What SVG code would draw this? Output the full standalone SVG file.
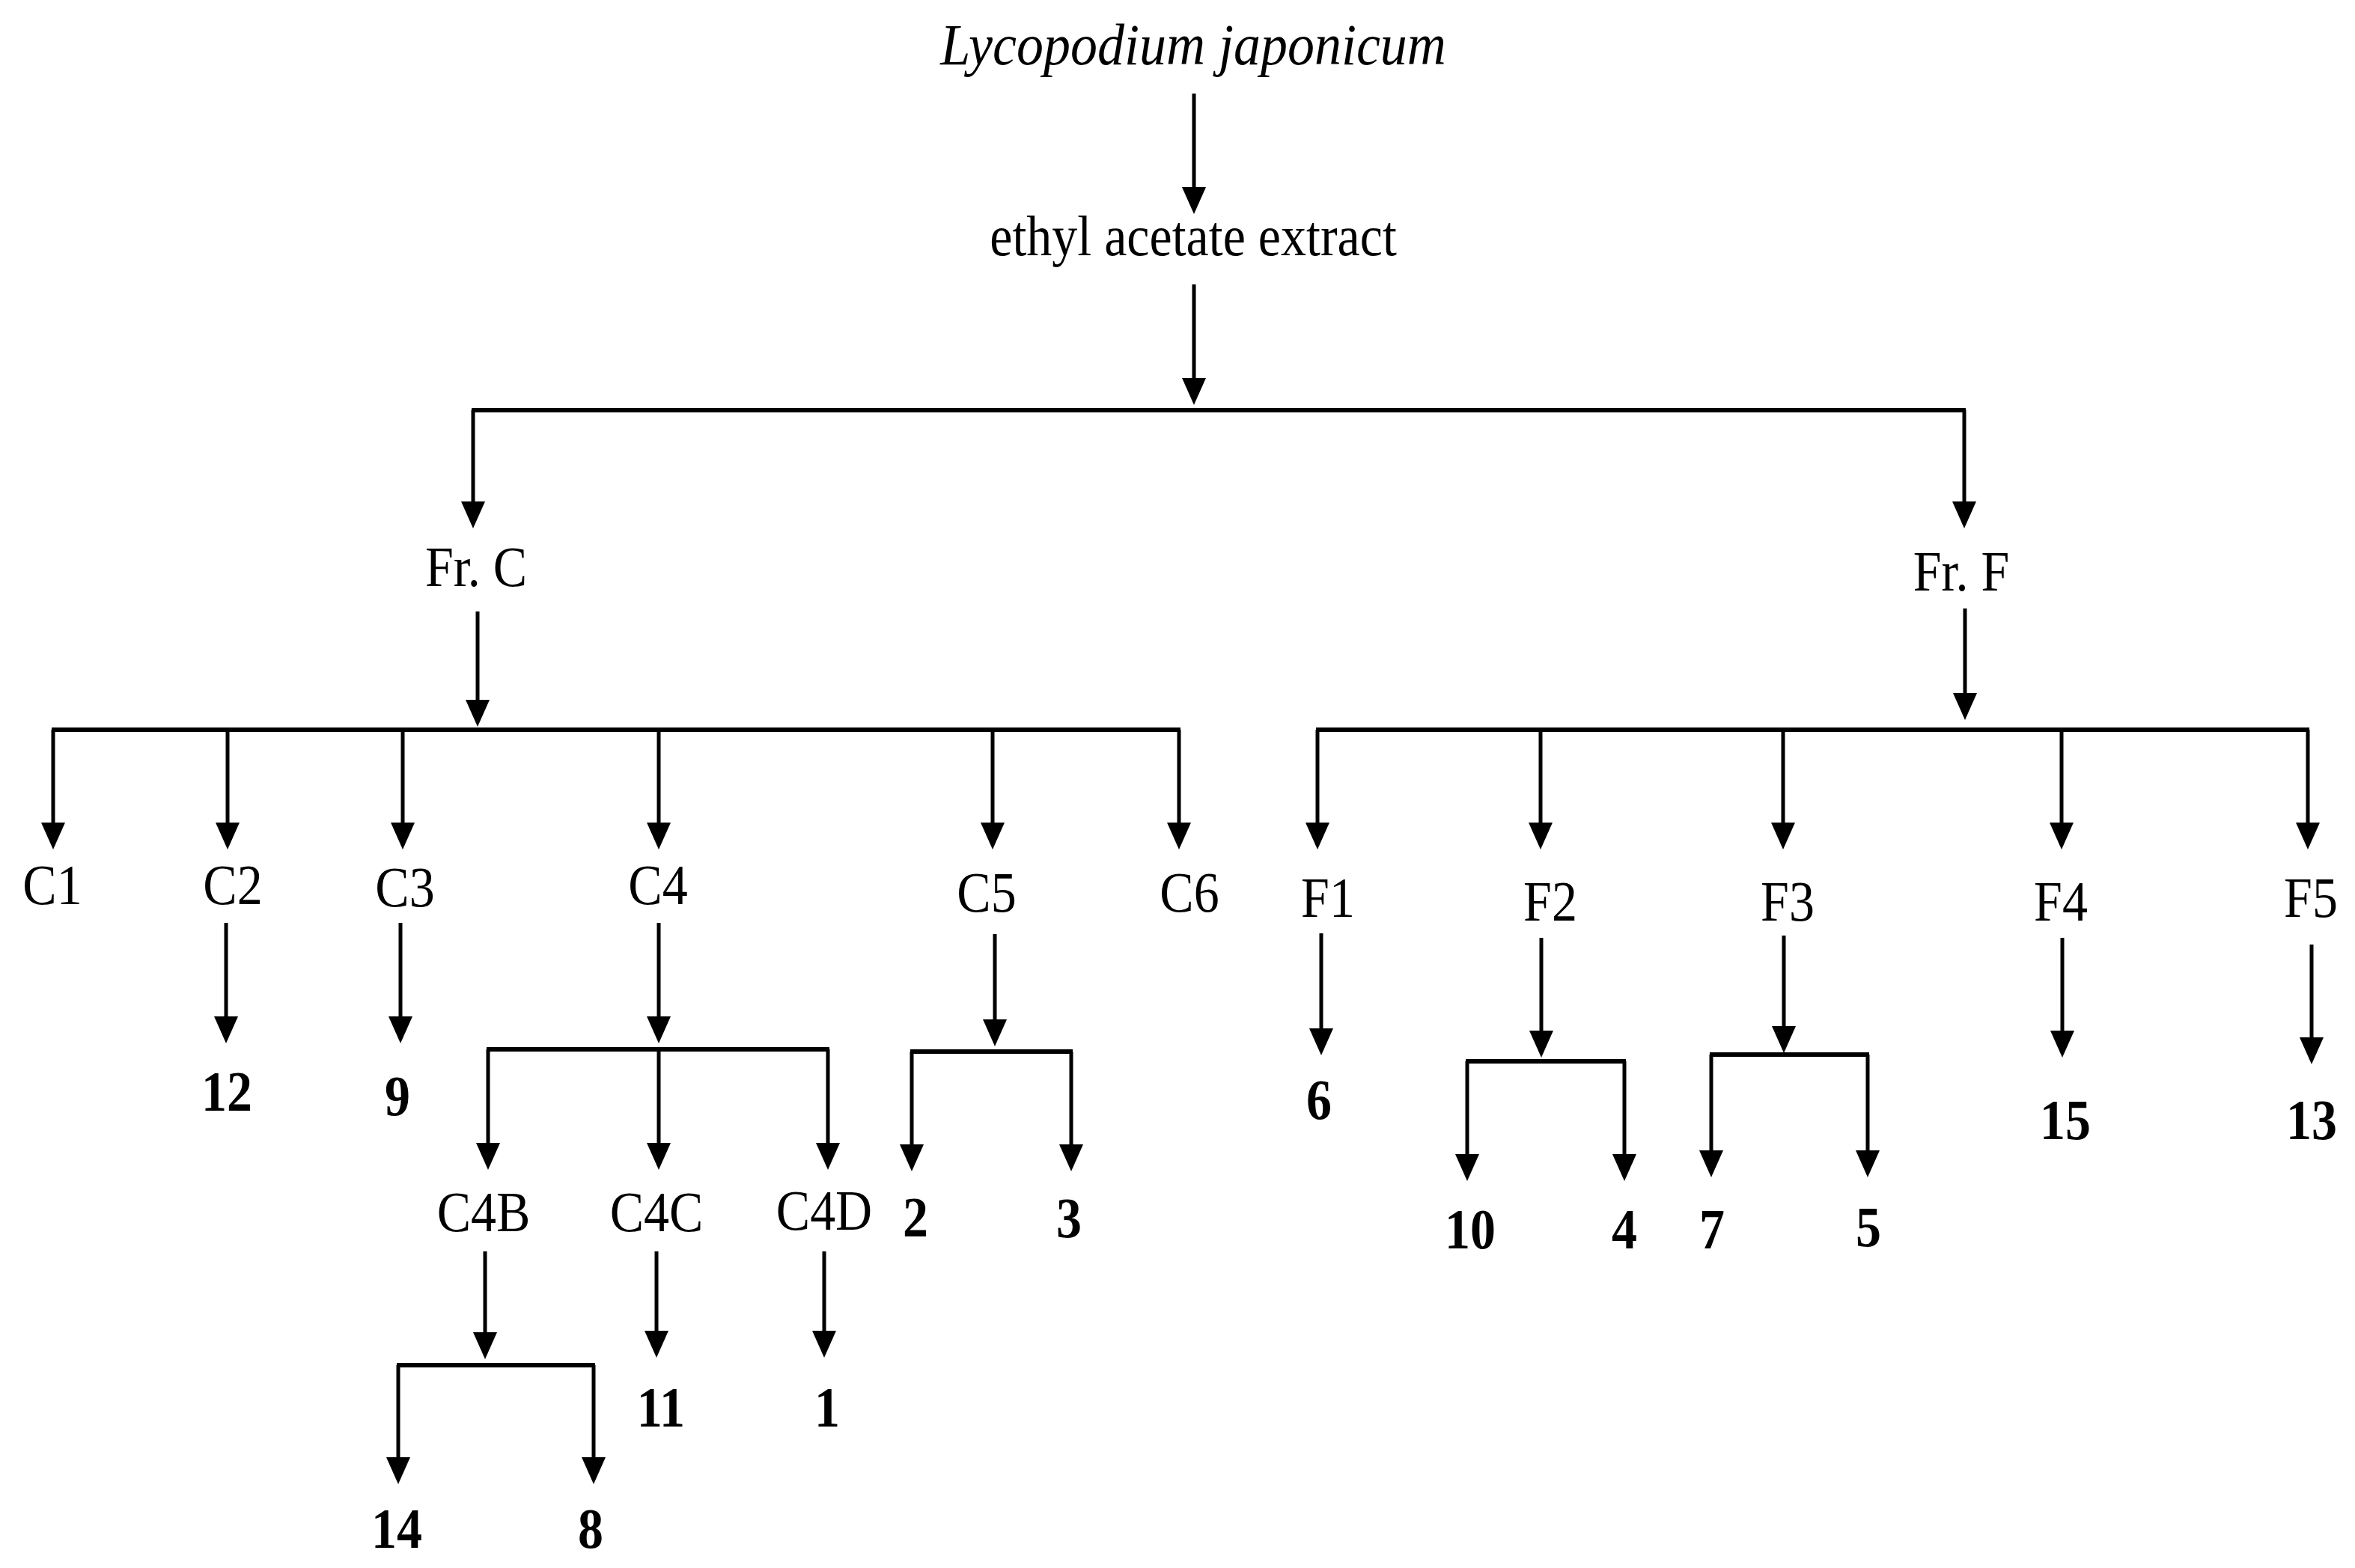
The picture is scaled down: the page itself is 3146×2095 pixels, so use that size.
<svg xmlns="http://www.w3.org/2000/svg" width="3146" height="2095" viewBox="0 0 3146 2095">
<defs>
<style>
text{font-family:"Liberation Serif","Times New Roman",serif;font-size:68px;fill:#000;text-anchor:middle}
.b{font-weight:bold}
.i{font-style:italic;font-size:72px}
.v{stroke:#000;stroke-width:5;fill:none;marker-end:url(#ah)}
.h{stroke:#000;stroke-width:6;fill:none}
</style>
<marker id="ah" viewBox="0 0 36 32" refX="28" refY="16" markerWidth="36" markerHeight="32" markerUnits="userSpaceOnUse" orient="auto">
<path d="M0,0 L36,16 L0,32 z" fill="#000"/>
</marker>
</defs>
<rect width="3146" height="2095" fill="#fff"/>
<g id="connectors">
<line class="v" x1="1595" y1="125" x2="1595" y2="278"/>
<line class="v" x1="1595" y1="380" x2="1595" y2="533"/>
<line class="h" x1="630" y1="548" x2="2626" y2="548"/>
<line class="v" x1="632" y1="548" x2="632" y2="698"/>
<line class="v" x1="2624" y1="548" x2="2624" y2="698"/>
<line class="v" x1="638" y1="817" x2="638" y2="963"/>
<line class="h" x1="69" y1="975" x2="1577" y2="975"/>
<line class="v" x1="71" y1="975" x2="71" y2="1127"/>
<line class="v" x1="304" y1="975" x2="304" y2="1127"/>
<line class="v" x1="538" y1="975" x2="538" y2="1127"/>
<line class="v" x1="880" y1="975" x2="880" y2="1127"/>
<line class="v" x1="1326" y1="975" x2="1326" y2="1127"/>
<line class="v" x1="1575" y1="975" x2="1575" y2="1127"/>
<line class="v" x1="2625" y1="813" x2="2625" y2="954"/>
<line class="h" x1="1758" y1="975" x2="3085" y2="975"/>
<line class="v" x1="1760" y1="975" x2="1760" y2="1127"/>
<line class="v" x1="2058" y1="975" x2="2058" y2="1127"/>
<line class="v" x1="2382" y1="975" x2="2382" y2="1127"/>
<line class="v" x1="2754" y1="975" x2="2754" y2="1127"/>
<line class="v" x1="3083" y1="975" x2="3083" y2="1127"/>
<line class="v" x1="302" y1="1233" x2="302" y2="1386"/>
<line class="v" x1="535" y1="1233" x2="535" y2="1386"/>
<line class="v" x1="880" y1="1233" x2="880" y2="1386"/>
<line class="h" x1="650" y1="1402" x2="1108" y2="1402"/>
<line class="v" x1="652" y1="1402" x2="652" y2="1555"/>
<line class="v" x1="880" y1="1402" x2="880" y2="1555"/>
<line class="v" x1="1106" y1="1402" x2="1106" y2="1555"/>
<line class="v" x1="1329" y1="1248" x2="1329" y2="1390"/>
<line class="h" x1="1216" y1="1405" x2="1433" y2="1405"/>
<line class="v" x1="1218" y1="1405" x2="1218" y2="1557"/>
<line class="v" x1="1431" y1="1405" x2="1431" y2="1557"/>
<line class="v" x1="648" y1="1672" x2="648" y2="1808"/>
<line class="h" x1="530" y1="1824" x2="795" y2="1824"/>
<line class="v" x1="532" y1="1824" x2="532" y2="1975"/>
<line class="v" x1="793" y1="1824" x2="793" y2="1975"/>
<line class="v" x1="877" y1="1672" x2="877" y2="1806"/>
<line class="v" x1="1101" y1="1672" x2="1101" y2="1806"/>
<line class="v" x1="1765" y1="1247" x2="1765" y2="1402"/>
<line class="v" x1="2059" y1="1253" x2="2059" y2="1405"/>
<line class="h" x1="1958" y1="1418" x2="2172" y2="1418"/>
<line class="v" x1="1960" y1="1418" x2="1960" y2="1570"/>
<line class="v" x1="2170" y1="1418" x2="2170" y2="1570"/>
<line class="v" x1="2383" y1="1250" x2="2383" y2="1399"/>
<line class="h" x1="2284" y1="1409" x2="2497" y2="1409"/>
<line class="v" x1="2286" y1="1409" x2="2286" y2="1565"/>
<line class="v" x1="2495" y1="1409" x2="2495" y2="1565"/>
<line class="v" x1="2755" y1="1253" x2="2755" y2="1405"/>
<line class="v" x1="3088" y1="1262" x2="3088" y2="1414"/>
</g>
<g id="n-source"><text class="i" transform="translate(1594,86) scale(1,1.1)">Lycopodium japonicum</text></g>
<g id="n-extract"><text transform="translate(1594,341) scale(1,1.12)">ethyl acetate extract</text></g>
<g id="n-frC"><text transform="translate(636,783) scale(1,1.12)">Fr. C</text></g>
<g id="n-frF"><text transform="translate(2620,789) scale(1,1.12)">Fr. F</text></g>
<g id="n-C1"><text transform="translate(70,1208) scale(1,1.12)">C1</text></g>
<g id="n-C2"><text transform="translate(311,1208) scale(1,1.12)">C2</text></g>
<g id="n-C3"><text transform="translate(541,1211) scale(1,1.12)">C3</text></g>
<g id="n-C4"><text transform="translate(879,1208) scale(1,1.12)">C4</text></g>
<g id="n-C5"><text transform="translate(1318,1218) scale(1,1.12)">C5</text></g>
<g id="n-C6"><text transform="translate(1589,1218) scale(1,1.12)">C6</text></g>
<g id="n-12"><text class="b" transform="translate(303,1484) scale(1,1.12)">12</text></g>
<g id="n-9"><text class="b" transform="translate(531,1490) scale(1,1.12)">9</text></g>
<g id="n-C4B"><text transform="translate(646,1645) scale(1,1.12)">C4B</text></g>
<g id="n-C4C"><text transform="translate(877,1645) scale(1,1.12)">C4C</text></g>
<g id="n-C4D"><text transform="translate(1101,1643) scale(1,1.12)">C4D</text></g>
<g id="n-2"><text class="b" transform="translate(1223,1652) scale(1,1.12)">2</text></g>
<g id="n-3"><text class="b" transform="translate(1428,1653) scale(1,1.12)">3</text></g>
<g id="n-11"><text class="b" transform="translate(883,1906) scale(1,1.12)">11</text></g>
<g id="n-1"><text class="b" transform="translate(1105,1906) scale(1,1.12)">1</text></g>
<g id="n-14"><text class="b" transform="translate(530,2068) scale(1,1.12)">14</text></g>
<g id="n-8"><text class="b" transform="translate(789,2068) scale(1,1.12)">8</text></g>
<g id="n-F1"><text transform="translate(1774,1225) scale(1,1.12)">F1</text></g>
<g id="n-F2"><text transform="translate(2071,1230) scale(1,1.12)">F2</text></g>
<g id="n-F3"><text transform="translate(2388,1230) scale(1,1.12)">F3</text></g>
<g id="n-F4"><text transform="translate(2753,1230) scale(1,1.12)">F4</text></g>
<g id="n-F5"><text transform="translate(3087,1225) scale(1,1.12)">F5</text></g>
<g id="n-6"><text class="b" transform="translate(1762,1495) scale(1,1.12)">6</text></g>
<g id="n-10"><text class="b" transform="translate(1964,1668) scale(1,1.12)">10</text></g>
<g id="n-4"><text class="b" transform="translate(2170,1668) scale(1,1.12)">4</text></g>
<g id="n-7"><text class="b" transform="translate(2287,1668) scale(1,1.12)">7</text></g>
<g id="n-5"><text class="b" transform="translate(2496,1665) scale(1,1.12)">5</text></g>
<g id="n-15"><text class="b" transform="translate(2759,1522) scale(1,1.12)">15</text></g>
<g id="n-13"><text class="b" transform="translate(3088,1522) scale(1,1.12)">13</text></g>
</svg>
